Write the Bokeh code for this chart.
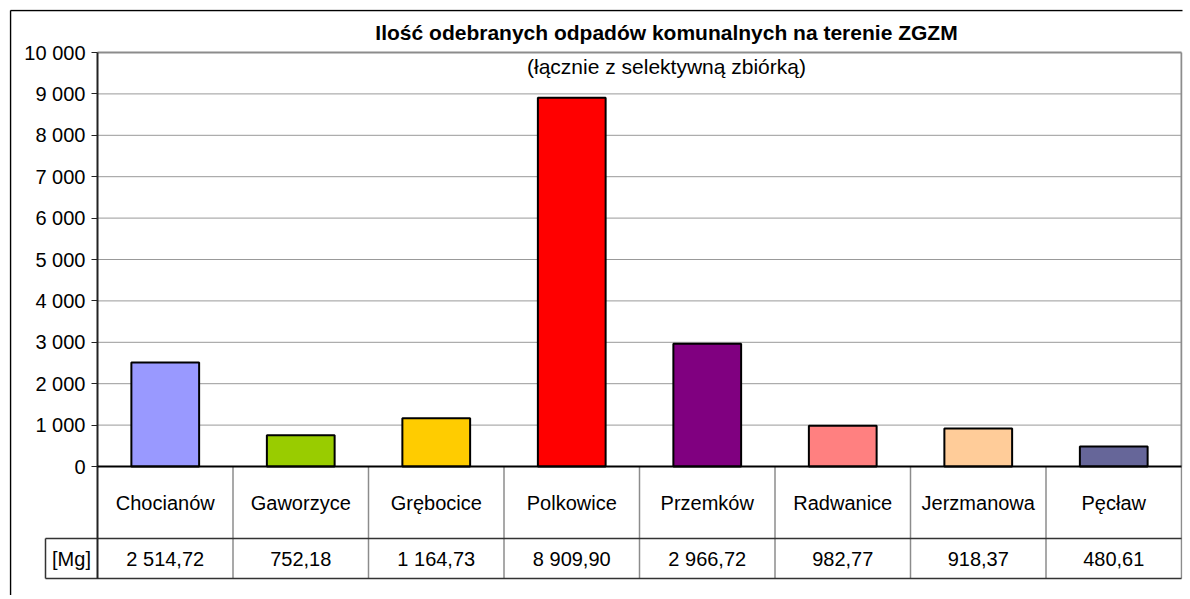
from bokeh.plotting import figure
from bokeh.models import Range1d, FixedTicker, ColumnDataSource
from bokeh.embed import file_html
from bokeh.resources import INLINE
from bokeh.core.properties import value

# ---- data ----
categories = ["Chocianów", "Gaworzyce", "Grębocice", "Polkowice",
              "Przemków", "Radwanice", "Jerzmanowa", "Pęcław"]
values = [2514.72, 752.18, 1164.73, 8909.90, 2966.72, 982.77, 918.37, 480.61]
colors = ["#9999FF", "#99CC00", "#FFCC00", "#FF0000",
          "#800080", "#FF8080", "#FFCC99", "#666699"]
y_ticks = [0, 1000, 2000, 3000, 4000, 5000, 6000, 7000, 8000, 9000, 10000]
unit_label = "[Mg]"
title_text = "Ilość odebranych odpadów komunalnych na terenie ZGZM"
subtitle_text = "(łącznie z selektywną zbiórką)"

FONT = "Liberation Sans"
FS = "20px"
FS_TITLE = "21px"
n = len(categories)
YMAX = 10000
K = 135.5            # px per category
PXV = YMAX / 414.0   # value units per px


def fmt_pl(v, d=0):
    s = f"{v:,.{d}f}"
    return s.replace(",", " ").replace(".", ",")


xs = [i + 0.5 for i in range(n)]
src = ColumnDataSource(dict(x=xs, top=values, color=colors, cat=categories,
                            lab=[fmt_pl(v, 2) for v in values]))

# frame: x from 9px to 1182px (x=0 at 97px), y from 9px to 595px (y=0 at 466px)
W, H = 1186, 595
p = figure(width=W, height=H,
           x_range=Range1d(-(97 - 9) / K, n + 1 / K),
           y_range=Range1d(-(H - 466) * PXV, YMAX + (52 - 9) * PXV),
           output_backend="svg", toolbar_location=None,
           min_border_left=9, min_border_right=W - 1182, min_border_top=9, min_border_bottom=0,
           x_axis_location=None, background_fill_color="white", border_fill_color="white")
p.outline_line_color = None
p.grid.visible = False

ax = p.yaxis[0]
ax.fixed_location = 0
ax.ticker = FixedTicker(ticks=y_ticks)
ax.major_label_overrides = {t: fmt_pl(t) for t in y_ticks}
ax.major_label_text_font = FONT
ax.major_label_text_font_size = FS
ax.major_label_text_color = "black"
ax.major_label_standoff = 6
ax.major_tick_out = 6
ax.major_tick_in = 0
ax.minor_tick_out = 0
ax.minor_tick_in = 0
ax.axis_line_color = None
ax.major_tick_line_color = "#222222"
ax.major_tick_line_width = 1

# gridlines
p.segment(x0=0, y0=y_ticks[:-1], x1=n, y1=y_ticks[:-1], line_color="#999999", line_width=1)
# plot-area border (top + right)
p.segment(x0=[0, n], y0=[YMAX, 0], x1=[n, n], y1=[YMAX, YMAX], line_color="#8c8c8c", line_width=2)

p.vbar(x="x", top="top", width=0.5, source=src, fill_color="color",
       line_color="black", line_width=2)

# ---- data table (below the axis) ----
ROW1 = -72 * PXV
ROW2 = -112 * PXV
mg_left = -52 / K
edges = list(range(1, n + 1))
p.segment(x0=edges, y0=0, x1=edges, y1=ROW2, line_color="#8c8c8c", line_width=1.5)
p.segment(x0=[mg_left, mg_left], y0=[ROW1, ROW2], x1=[n, n], y1=[ROW1, ROW2],
          line_color="#333333", line_width=1.5)
p.segment(x0=[mg_left], y0=[ROW1], x1=[mg_left], y1=[ROW2], line_color="#333333", line_width=1.5)
# value axis line continuing down through the table
p.segment(x0=[0], y0=[ROW2], x1=[0], y1=[YMAX], line_color="#222222", line_width=2)
# category baseline
p.segment(x0=[0], y0=[0], x1=[n], y1=[0], line_color="black", line_width=2)

p.text(x="x", y=ROW1 / 2, text="cat", source=src, text_font=value(FONT),
       text_font_size=FS, text_align="center", text_baseline="middle", text_color="black")
p.text(x="x", y=(ROW1 + ROW2) / 2, text="lab", source=src, text_font=value(FONT),
       text_font_size=FS, text_align="center", text_baseline="middle", text_color="black")
p.text(x=[mg_left / 2], y=[(ROW1 + ROW2) / 2], text=[unit_label], text_font=value(FONT),
       text_font_size=FS, text_align="center", text_baseline="middle", text_color="black")

# titles
p.text(x=[(666 - 97) / K], y=[(466 - 32) * PXV], text=[title_text], text_font=value(FONT),
       text_font_size=FS_TITLE, text_font_style="bold", text_align="center",
       text_baseline="middle", text_color="black")
p.text(x=[(666 - 97) / K], y=[(466 - 66) * PXV], text=[subtitle_text], text_font=value(FONT),
       text_font_size=FS_TITLE, text_align="center", text_baseline="middle", text_color="black")

# outer chart border (top + left)
x_out = -(97 - 10) / K
y_out = YMAX + (52 - 10) * PXV
p.segment(x0=[x_out, x_out], y0=[y_out, y_out], x1=[n + 2, x_out], y1=[y_out, -(H - 466 + 5) * PXV],
          line_color="black", line_width=1.5)

open("out.html", "w").write(file_html(p, INLINE))
